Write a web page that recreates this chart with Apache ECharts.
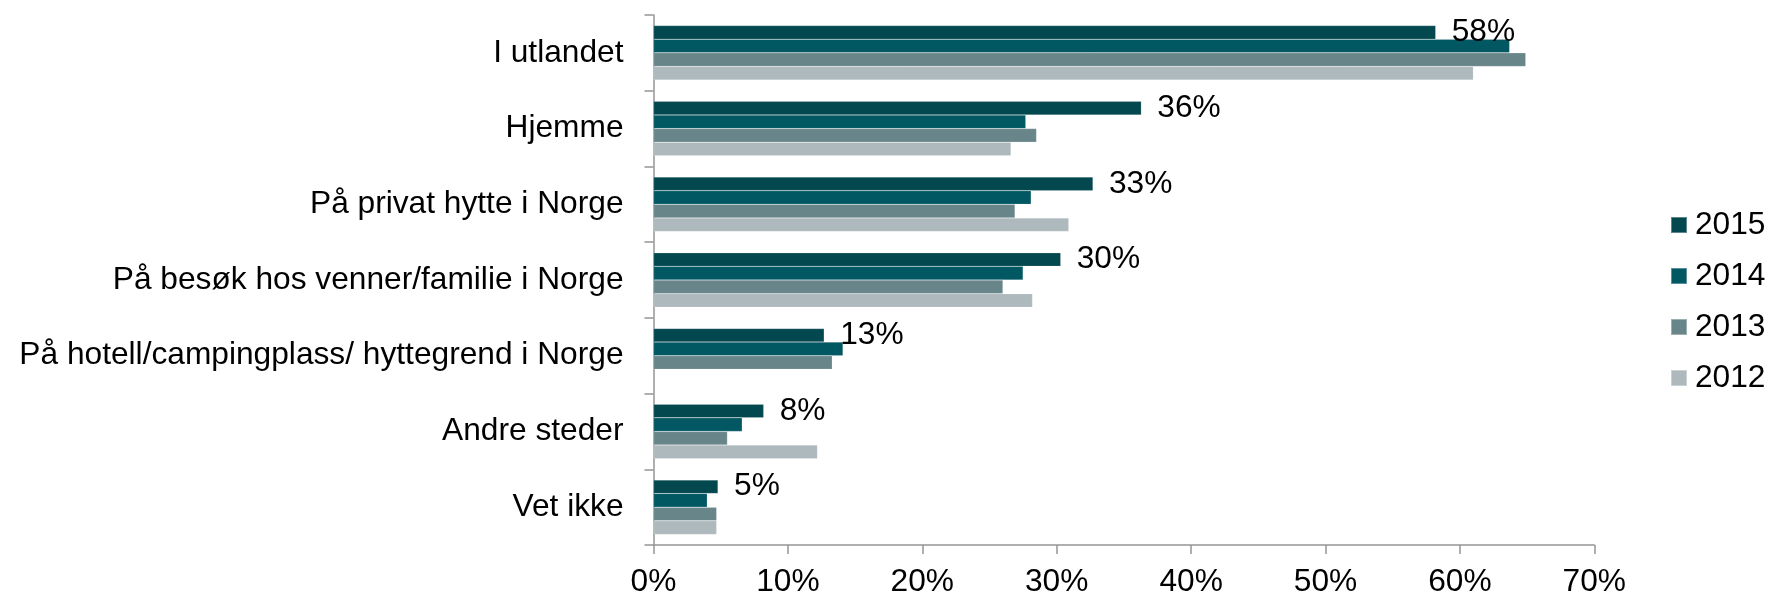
<!DOCTYPE html>
<html>
<head>
<meta charset="utf-8">
<script src="https://cdn.jsdelivr.net/npm/echarts@6/dist/echarts.min.js"></script>
<style>
html,body{margin:0;padding:0;background:#fff;}
#chart{width:1767px;height:598px;}
</style>
</head>
<body>
<div id="chart"></div>
<script>
var categories = [
  'I utlandet',
  'Hjemme',
  'På privat hytte i Norge',
  'På besøk hos venner/familie i Norge',
  'På hotell/campingplass/ hyttegrend i Norge',
  'Andre steder',
  'Vet ikke'
];
var seriesNames = ['2015', '2014', '2013', '2012'];
var values2015 = [58.2, 36.3, 32.7, 30.3, 12.7, 8.2, 4.8];
var values2014 = [63.7, 27.7, 28.1, 27.5, 14.1, 6.6, 4.0];
var values2013 = [64.9, 28.5, 26.9, 26.0, 13.3, 5.5, 4.7];
var values2012 = [61.0, 26.6, 30.9, 28.2, null, 12.2, 4.7];
var xTicks = [0, 10, 20, 30, 40, 50, 60, 70];
var colors = ['#04484f', '#015762', '#688589', '#aeb9bd'];

var FONT = "'Liberation Sans', Arial, sans-serif";
var FS = 31.7;
var allValues = [values2015, values2014, values2013, values2012];

var series = seriesNames.map(function (name, i) {
  var s = {
    name: name,
    type: 'bar',
    data: allValues[i],
    barGap: '0%',
    barCategoryGap: '28%',
    itemStyle: { color: colors[i], borderColor: 'rgba(255,255,255,0.35)', borderWidth: 0.5 },
    emphasis: { disabled: true }
  };
  if (i === 0) {
    s.label = {
      show: true,
      position: 'right',
      distance: 16,
      fontFamily: FONT,
      fontSize: FS,
      color: '#000',
      formatter: function (p) { return Math.round(p.value) + '%'; }
    };
  }
  return s;
});

var chart = echarts.init(document.getElementById('chart'), null, { renderer: 'canvas' });
chart.setOption({
  animation: false,
  backgroundColor: '#fff',
  textStyle: { fontFamily: FONT },
  grid: { left: 653.5, right: 172.7, top: 15, bottom: 49.7, containLabel: false },
  legend: {
    orient: 'vertical',
    left: 1670,
    top: 209,
    padding: 0,
    itemWidth: 16,
    itemHeight: 16,
    itemGap: 19,
    icon: 'rect',
    data: seriesNames,
    textStyle: { fontFamily: FONT, fontSize: FS, color: '#000', padding: [0, 0, 0, 3] },
    selectedMode: false
  },
  xAxis: {
    type: 'value',
    min: xTicks[0],
    max: xTicks[xTicks.length - 1],
    interval: 10,
    splitLine: { show: false },
    axisLine: { show: true, lineStyle: { color: '#959595', width: 1.5 } },
    axisTick: { show: true, length: 9, lineStyle: { color: '#959595', width: 1.5 } },
    axisLabel: { formatter: '{value}%', fontFamily: FONT, fontSize: FS, color: '#000', margin: 21 }
  },
  yAxis: {
    type: 'category',
    inverse: true,
    data: categories,
    axisLine: { show: true, lineStyle: { color: '#959595', width: 1.5 } },
    axisTick: { show: true, length: 9, lineStyle: { color: '#959595', width: 1.5 } },
    axisLabel: { fontFamily: FONT, fontSize: FS, color: '#000', margin: 30 }
  },
  series: series
});
</script>
</body>
</html>
